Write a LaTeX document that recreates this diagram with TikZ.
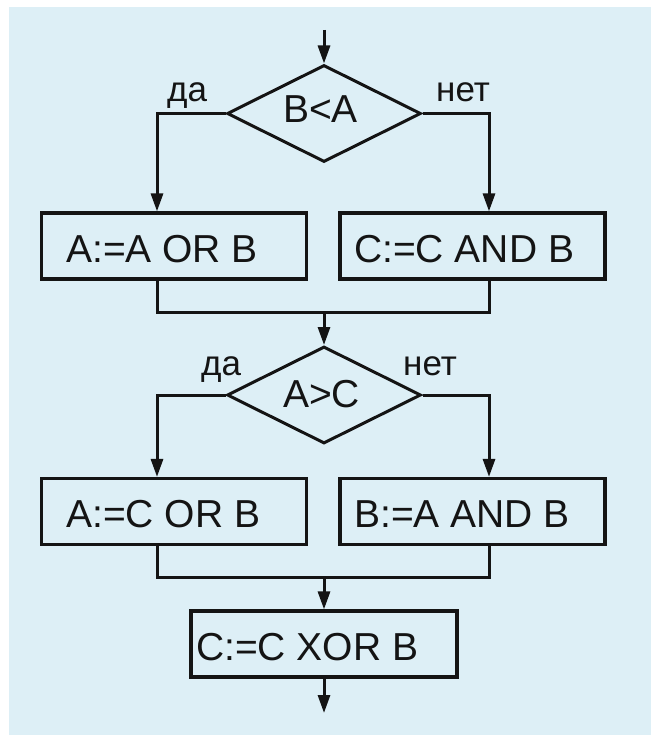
\documentclass[tikz,border=0pt]{standalone}
\usepackage{fontspec}
\setmainfont{Liberation Sans}
\usetikzlibrary{shapes.geometric,arrows.meta}
\definecolor{bgblue}{RGB}{221,239,246}
\definecolor{ink}{RGB}{20,20,20}
\begin{document}
\begin{tikzpicture}[x=1pt,y=-1pt,
  procbox/.style={draw=ink, rectangle, minimum width=265pt, minimum height=66pt, inner sep=0pt, line width=3.2pt},
  decis/.style={draw=ink, diamond, minimum width=194pt, minimum height=97pt, inner sep=0pt, line width=3pt},
  btxt/.style={anchor=base west, inner sep=0pt, font=\fontsize{39}{39}\selectfont, text=ink},
  ltxt/.style={anchor=base west, inner sep=0pt, font=\fontsize{35}{35}\selectfont, text=ink},
  flow/.style={draw=ink, line width=3pt},
  arr/.style={flow, -{Triangle[length=18pt,width=12pt]}}
]
\useasboundingbox (0,0) rectangle (651,735);
\fill[white] (0,0) rectangle (651,735);
\fill[bgblue] (9,7) rectangle (651,735);

\coordinate (xl) at (157,0);
\coordinate (xr) at (489,0);

% first decision
\coordinate (start) at (324,30);
\node[decis] (d1) at (324,113.5) {};
\node[btxt] (t1) at (283,123) {B<A};
\node[ltxt] (y1) at (167,102) {да};
\node[ltxt] (n1) at (436,102) {нет};

\node[procbox] (b1) at (174.2,246) {};
\node[btxt] (tb1) at (66,262) {A:=A OR B};
\node[procbox] (b2) at (472.5,246) {};
\node[btxt] (tb2) at (354,262) {C:=C AND B};

\draw[arr] (start) -- (d1.north);
\draw[arr] (d1.west) -| (b1.north -| xl);
\draw[arr] (d1.east) -| (b2.north -| xr);

\coordinate (m1) at (324,312);
\draw[flow] (b1.south -| xl) |- (m1) -| (b2.south -| xr);

% second decision
\node[decis] (d2) at (324,395) {};
\node[btxt] (t2) at (283,407) {A>C};
\node[ltxt] (y2) at (201,375) {да};
\node[ltxt] (n2) at (403,375) {нет};
\draw[arr] (m1) -- (d2.north);

\node[procbox] (b3) at (174.2,511.5) {};
\node[btxt] (tb3) at (66,527) {A:=C OR B};
\node[procbox] (b4) at (472.5,511.5) {};
\node[btxt] (tb4) at (354,527) {B:=A AND B};

\draw[arr] (d2.west) -| (b3.north -| xl);
\draw[arr] (d2.east) -| (b4.north -| xr);

\coordinate (m2) at (324,577);
\draw[flow] (b3.south -| xl) |- (m2) -| (b4.south -| xr);

\node[procbox, minimum width=266pt] (b5) at (324,644) {};
\node[btxt] (tb5) at (196,660) {C:=C XOR B};
\draw[arr] (m2) -- (b5.north);

\coordinate (stop) at (324,713);
\draw[arr] (b5.south) -- (stop);
\end{tikzpicture}
\end{document}
